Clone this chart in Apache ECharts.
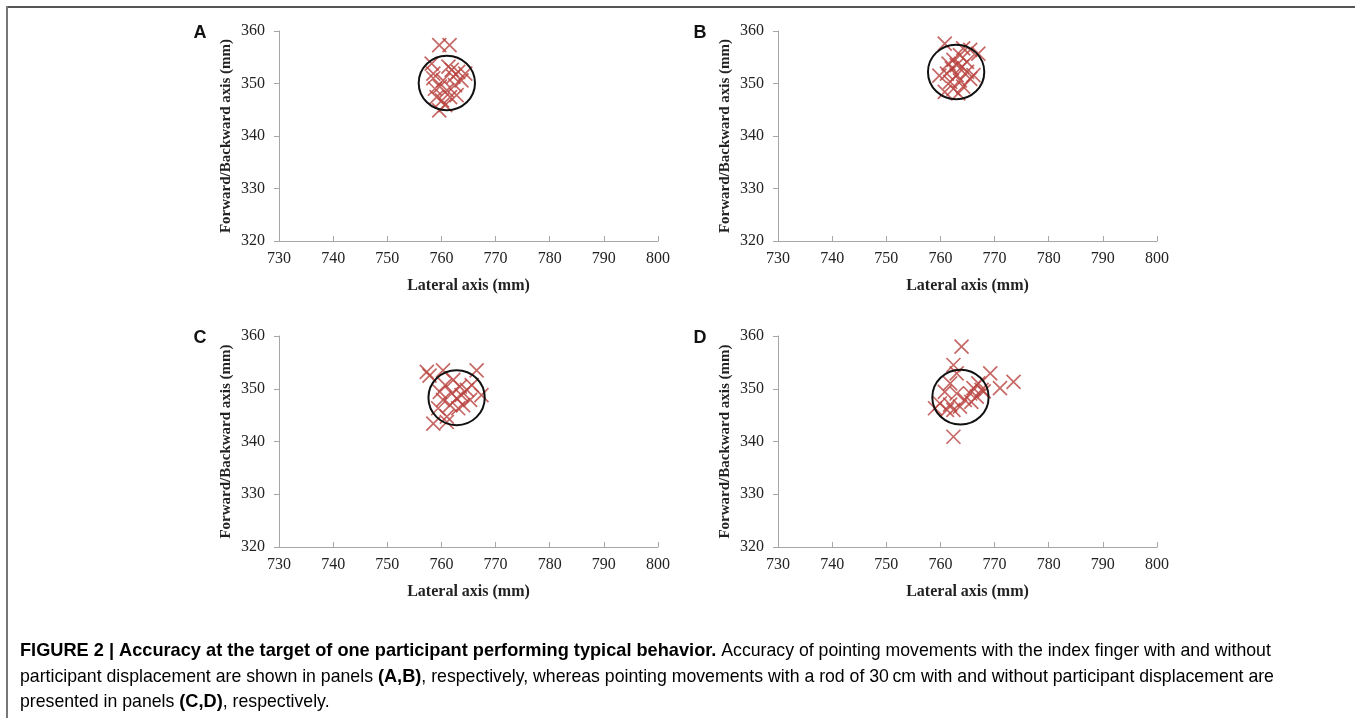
<!DOCTYPE html>
<html>
<head>
<meta charset="utf-8">
<script src="https://cdn.jsdelivr.net/npm/echarts@6/dist/echarts.min.js"></script>
<style>
html,body{margin:0;padding:0;background:#fff;}
#chart{width:1355px;height:718px;}
</style>
</head>
<body>
<div id="chart"></div>
<script>
// ---- data ----
const xTicks = [730, 740, 750, 760, 770, 780, 790, 800];
const yTicks = [320, 330, 340, 350, 360];
const panelLetters = ['A', 'B', 'C', 'D'];

const pointsA = [
  [759.6,357.3],[761.5,357.3],[758.2,353.8],[758.5,351.9],[761.3,353.2],[763.1,352.2],
  [764.4,351.9],[760.3,350.6],[762.2,351.3],[759.7,349.4],[758.8,349.0],[761.0,348.7],
  [762.5,349.7],[763.7,350.6],[759.1,347.4],[760.1,346.8],[761.6,347.4],[760.7,345.9],
  [759.6,344.9],[762.8,347.8],[758.5,351.0],[761.9,352.6]
];
const pointsB = [
  [760.8,357.6],[764.2,356.7],[765.5,356.4],[767.0,355.7],[763.6,355.4],[762.4,354.5],
  [761.5,353.8],[763.0,353.5],[762.1,352.9],[764.0,353.2],[764.9,354.1],[761.2,351.9],
  [763.0,351.6],[764.9,352.2],[766.1,351.6],[759.8,351.5],[761.8,350.3],[763.6,350.6],
  [765.5,350.9],[762.4,349.0],[760.8,348.4],[764.2,349.4],[763.3,348.1]
];
const pointsC = [
  [757.3,353.2],[760.3,353.5],[766.5,353.5],[757.8,352.5],[762.2,351.7],[760.7,350.7],
  [763.4,350.4],[765.6,350.7],[759.7,349.4],[761.9,349.1],[763.7,348.8],[764.7,349.8],
  [767.4,348.8],[762.8,348.2],[760.3,347.9],[765.3,347.9],[761.6,346.9],[764.0,346.9],
  [759.4,346.3],[761.0,344.7],[758.5,343.4],[761.0,343.7],[763.1,346.3]
];
const pointsD = [
  [763.9,358.0],[762.4,354.5],[763.0,352.9],[769.2,352.9],[773.5,351.3],[771.0,350.1],
  [767.0,351.0],[766.1,350.1],[767.6,349.8],[765.5,349.1],[761.8,351.0],[760.8,349.4],
  [763.0,349.1],[766.7,348.5],[764.5,347.9],[759.9,347.2],[759.0,346.3],[761.8,347.0],
  [762.4,346.0],[763.6,346.6],[765.7,347.5],[762.4,340.9],[761.2,346.0],[768.0,349.5]
];
// target circles: [centerX, centerY, radius] in mm
const circles = [
  [761.0, 350.1, 5.2],
  [762.9, 352.2, 5.2],
  [762.8, 348.3, 5.2],
  [763.7, 348.4, 5.2]
];
const allPoints = [pointsA, pointsB, pointsC, pointsD];

// ---- layout ----
const grids = [
  {left: 279, top: 31, width: 379, height: 210},
  {left: 778, top: 31, width: 379, height: 210},
  {left: 279, top: 336, width: 379, height: 211},
  {left: 778, top: 336, width: 379, height: 211}
];
const serif = '"Liberation Serif","Times New Roman",serif';
const sans = '"Liberation Sans",Arial,sans-serif';
const axisGray = '#a6a6a6';

const xAxes = grids.map((g, i) => ({
  gridIndex: i, type: 'value', min: xTicks[0], max: xTicks[xTicks.length - 1], interval: 10,
  name: 'Lateral axis (mm)', nameLocation: 'middle', nameGap: 37,
  nameTextStyle: {fontFamily: serif, fontWeight: 'bold', fontSize: 16, color: '#222'},
  axisLine: {show: true, lineStyle: {color: axisGray, width: 1}},
  axisTick: {show: true, inside: true, length: 5, lineStyle: {color: axisGray}},
  axisLabel: {fontFamily: serif, fontSize: 16, color: '#222', margin: 10},
  splitLine: {show: false}
}));
const yAxes = grids.map((g, i) => ({
  gridIndex: i, type: 'value', min: yTicks[0], max: yTicks[yTicks.length - 1], interval: 10,
  name: 'Forward/Backward axis (mm)', nameLocation: 'middle', nameGap: 45,
  nameTextStyle: {fontFamily: serif, fontWeight: 'bold', fontSize: 15, color: '#222'},
  axisLine: {show: true, lineStyle: {color: axisGray, width: 1}},
  axisTick: {show: true, inside: false, length: 5, lineStyle: {color: axisGray}},
  axisLabel: {fontFamily: serif, fontSize: 16, color: '#222', margin: 14},
  splitLine: {show: false}
}));

const series = [];
allPoints.forEach((pts, i) => {
  series.push({
    type: 'scatter', xAxisIndex: i, yAxisIndex: i, data: pts,
    symbol: 'path://M0,0L10,10M10,0L0,10', symbolSize: 14,
    itemStyle: {color: 'rgba(0,0,0,0)', borderColor: '#b8423f', borderWidth: 1.7},
    silent: true, z: 2
  });
  series.push({
    type: 'custom', xAxisIndex: i, yAxisIndex: i, data: [circles[i]],
    renderItem: function (params, api) {
      const c = api.coord([api.value(0), api.value(1)]);
      const s = api.size([api.value(2), api.value(2)]);
      return {
        type: 'ellipse',
        shape: {cx: c[0], cy: c[1], rx: s[0], ry: s[1]},
        style: {fill: 'none', stroke: '#111', lineWidth: 2}
      };
    },
    silent: true, z: 3
  });
});

const letterPos = [[200, 33], [700, 33], [200, 338], [700, 338]];
const graphic = [
  {type: 'line', shape: {x1: 7, y1: 7, x2: 1355, y2: 7}, style: {stroke: '#555', lineWidth: 2}},
  {type: 'line', shape: {x1: 7, y1: 6, x2: 7, y2: 718}, style: {stroke: '#777', lineWidth: 2}}
];
panelLetters.forEach((L, i) => {
  graphic.push({type: 'text', x: letterPos[i][0], y: letterPos[i][1],
    style: {text: L, font: 'bold 18px ' + sans, fill: '#111', align: 'center', verticalAlign: 'middle'}});
});
const rich = {
  b: {fontFamily: sans, fontSize: 18.2, fontWeight: 'bold', color: '#222'},
  n: {fontFamily: sans, fontSize: 17.7, color: '#333'}
};
const capLines = [
  '{b|FIGURE 2 | Accuracy at the target of one participant performing typical behavior.}{n| Accuracy of pointing movements with the index finger with and without}',
  '{n|participant displacement are shown in panels }{b|(A,B)}{n|, respectively, whereas pointing movements with a rod of 30\u2009cm with and without participant displacement are}',
  '{n|presented in panels }{b|(C,D)}{n|, respectively.}'
];
const capY = [651, 677, 702];
capLines.forEach((t, i) => {
  graphic.push({type: 'text', x: 20, y: capY[i],
    style: {text: t, rich: rich, verticalAlign: 'middle', align: 'left'}});
});

const chart = echarts.init(document.getElementById('chart'), null, {renderer: 'canvas'});
chart.setOption({
  animation: false,
  backgroundColor: '#fff',
  grid: grids,
  xAxis: xAxes,
  yAxis: yAxes,
  series: series,
  graphic: graphic
});
</script>
</body>
</html>
